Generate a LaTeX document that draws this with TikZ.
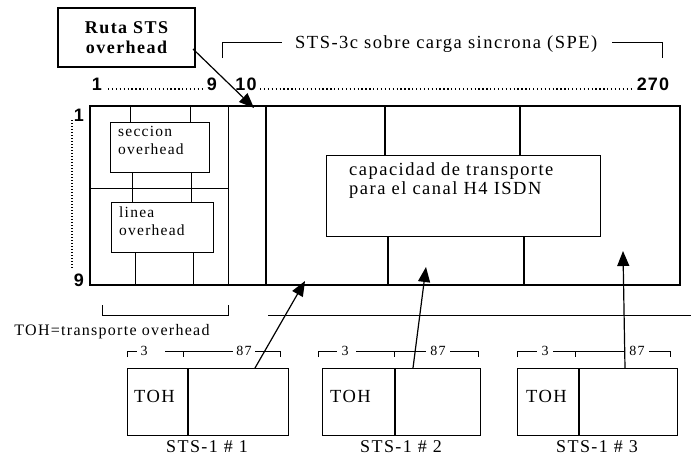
\documentclass[tikz,border=0pt]{standalone}
\usepackage{fontspec}
\setmainfont{Liberation Serif}
\newfontfamily\numfont{Liberation Sans}[LetterSpace=6]
\newfontfamily\wide{Liberation Serif}[LetterSpace=8]
\usetikzlibrary{arrows.meta}
\begin{document}
\begin{tikzpicture}[x=1pt,y=-1pt,
  box/.style={draw,line width=1pt,inner sep=0pt,outer sep=0pt},
  thin/.style={line width=0.9pt},
  thick/.style={line width=2.2pt},
  txt/.style={font=\wide\fontsize{18.5}{21}\selectfont,inner sep=0pt},
  num/.style={font=\numfont\bfseries\fontsize{18}{20}\selectfont,inner sep=0pt},
  dots/.style={line width=1.6pt,dash pattern=on 1.3pt off 2.6pt},
  arr/.style={line width=1.2pt,-{Triangle[length=15pt,width=12pt]}}]
\useasboundingbox (0,0) rectangle (691,459);
% Ruta STS overhead box
\node[box,line width=2pt,minimum width=137pt,minimum height=59pt,align=center,
  font=\wide\bfseries\fontsize{18}{20}\selectfont] (ruta) at (126.5,37.5) {Ruta STS\\overhead};
% bracket SPE
\node[txt,anchor=west] (spe) at (295,44) {STS-3c sobre carga sincrona (SPE)};
\coordinate (spel) at (222,58);
\coordinate (sper) at (662,58);
\draw[thin] (spel) -- (222,42) -- (282,42);
\draw[thin] (612,42) -- (662,42) -- (sper);
% column numbers
\node[num] (c1) at (97,84) {1};
\node[num] (c9) at (212,84) {9};
\node[num] (c10) at (246,84) {10};
\node[num] (c270) at (653,84) {270};
\draw[dots] (108,89) -- (204,89);
\draw[dots] (260,89) -- (634,89);
% main frame
\node[box,line width=2.2pt,minimum width=590pt,minimum height=179pt] (frame) at (385,195.5) {};
% row numbers
\node[num] (r1) at (79,115) {1};
\node[num] (r9) at (79,280) {9};
\draw[dots,line width=1.4pt,dash pattern=on 1pt off 2pt] (72,120) -- (72,268);
% inner left structure
\draw[thin] (228,106) -- (228,285);
\draw[thin] (90,188) -- (228,188);
\draw[thick] (266,106) -- (266,285);
\node[box,minimum width=99pt,minimum height=50pt] (secc) at (159.5,147) {};
\node[txt,anchor=north west,align=left,font=\wide\fontsize{15.5}{18}\selectfont] (secct) at (118,126) {seccion\\overhead};
\node[box,minimum width=102pt,minimum height=50pt] (linea) at (162,227) {};
\node[txt,anchor=north west,align=left,font=\wide\fontsize{15.5}{18}\selectfont] (lineat) at (119,207) {linea\\overhead};
\draw[thin] (130,106) -- (secc.north -| 130,0);
\draw[thin] (190,106) -- (secc.north -| 190,0);
\draw[thin] (secc.south -| 132,0) -- (linea.north -| 132,0);
\draw[thin] (secc.south -| 191,0) -- (linea.north -| 191,0);
\draw[thin] (linea.south -| 135,0) -- (135,285);
\draw[thin] (linea.south -| 193,0) -- (193,285);
% capacity box
\node[box,minimum width=274pt,minimum height=81pt] (cap) at (463,195.5) {};
\node[txt,anchor=north west,align=left,font=\wide\fontsize{18.5}{19}\selectfont] (capt) at (349,162) {capacidad de transporte\\para el canal H4 ISDN};
\draw[thick] (385,106) -- (cap.north -| 385,0);
\draw[thick] (520,106) -- (cap.north -| 520,0);
\draw[thick] (cap.south -| 388,0) -- (388,285);
\draw[thick] (cap.south -| 524,0) -- (524,285);
% ruta arrow
\coordinate (rutatip) at (254,108);
\draw[arr] (193,49) -- (rutatip);
% TOH bracket
\draw[thin] (102,305) -- (102,315) -- (228,315) -- (228,305);
\draw[thin] (268,315) -- (691,315);
\node[txt,font=\wide\fontsize{16}{18}\selectfont] (tohlbl) at (112,332) {TOH=transporte overhead};
% STS-1 frames
\foreach \i/\l/\d/\r/\cx in {1/127/188/288/207, 2/322/395/480/401, 3/517/579/677/597}{
  \node[box,minimum width={\d-\l},minimum height=67pt] (toh\i) at ({(\l+\d)/2},401.5) {};
  \node[box,minimum width={\r-\d},minimum height=67pt] (pay\i) at ({(\d+\r)/2},401.5) {};
  \draw[thick] (\d,368) -- (\d,435);
  \node[txt,font=\wide\fontsize{18}{20}\selectfont] (stsl\i) at (\cx,447) {STS-1 \# \i};
}
\node[txt,anchor=west,font=\wide\fontsize{18.5}{20}\selectfont] (tohA) at (134,396) {TOH};
\node[txt,anchor=west,font=\wide\fontsize{18.5}{20}\selectfont] (tohB) at (330,396) {TOH};
\node[txt,anchor=west,font=\wide\fontsize{18.5}{20}\selectfont] (tohC) at (526,396) {TOH};
% small brackets
\tikzset{sm/.style={font=\wide\fontsize{14}{16}\selectfont,inner sep=0pt}}
\node[sm] (t3a) at (144,351) {3};
\node[sm] (t87a) at (244,351) {87};
\draw[thin] (127,357) -- (127,351) -- (137,351);
\draw[thin] (165,351) -- (233,351);
\draw[thin] (183,351) -- (183,357);
\draw[thin] (255,351) -- (280,351) -- (280,357);
\node[sm] (t3b) at (345,351) {3};
\node[sm] (t87b) at (438,351) {87};
\draw[thin] (318,357) -- (318,351) -- (337,351);
\draw[thin] (356,351) -- (426,351);
\draw[thin] (394,351) -- (394,357);
\draw[thin] (450,351) -- (478,351) -- (478,357);
\node[sm] (t3c) at (545,351) {3};
\node[sm] (t87c) at (637,351) {87};
\draw[thin] (517,357) -- (517,351) -- (537,351);
\draw[thin] (553,351) -- (624,351);
\draw[thin] (575,351) -- (575,357);
\draw[thin] (649,351) -- (670,351) -- (670,357);
% upward arrows
\coordinate (tip1) at (305,281);
\coordinate (tip2) at (426,267);
\coordinate (tip3) at (623,251);
\draw[arr] (pay1.north -| 255,0) -- (tip1);
\draw[arr] (pay2.north -| 413,0) -- (tip2);
\draw[arr] (pay3.north -| 625,0) -- (tip3);
\end{tikzpicture}
\end{document}
